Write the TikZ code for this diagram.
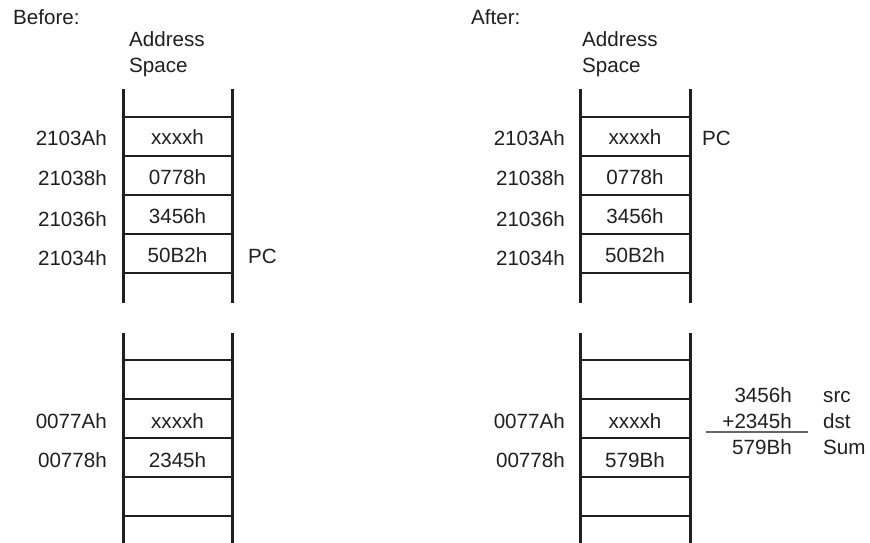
\documentclass[tikz,border=0pt]{standalone}
\usepackage{fontspec}
\setmainfont{Liberation Sans}

\tikzset{
    mem wall/.style={
      draw=black!88,
      line width=3pt
    },
    mem rule/.style={
      draw=black!88,
      line width=2.5pt
    },
    sum rule/.style={
      draw=black!60,
      line width=1.5pt
    },
    mem text/.style={
      font=\fontsize{20.6}{24}\selectfont,
      text=black!88,
      inner sep=0pt
    }
  }

\begin{document}
\begin{tikzpicture}[x=1pt,y=-1pt]
      \useasboundingbox (0,0) rectangle (870,543);

      % Titel
      \node[mem text, anchor=base west] (before) at (13,25) {Before:};
      \node[mem text, anchor=base west] (after) at (471,25) {After:};
      \node[mem text, anchor=base west] (addrL) at (129,47) {Address};
      \node[mem text, anchor=base west] (spaceL) at (129,73) {Space};
      \node[mem text, anchor=base west] (addrR) at (582,47) {Address};
      \node[mem text, anchor=base west] (spaceR) at (582,73) {Space};

      % Speicher links
      \draw[mem wall] (123,89) -- (123,303) (232,89) -- (232,303);
      \draw[mem wall] (123,333) -- (123,543) (232,333) -- (232,543);
      \foreach \y in {117,156,195,234,273,360,399,438,477,516}
        \draw[mem rule] (123,\y) -- (232,\y);

      % Speicher rechts
      \draw[mem wall] (580,89) -- (580,303) (690,89) -- (690,303);
      \draw[mem wall] (580,333) -- (580,543) (690,333) -- (690,543);
      \foreach \y in {117,156,195,234,273,360,399,438,477,516}
        \draw[mem rule] (580,\y) -- (690,\y);

      % Adressen links
      \node[mem text, anchor=base east] (aL1) at (107,145) {2103Ah};
      \node[mem text, anchor=base east] (aL2) at (107,185) {21038h};
      \node[mem text, anchor=base east] (aL3) at (107,226) {21036h};
      \node[mem text, anchor=base east] (aL4) at (107,265) {21034h};
      \node[mem text, anchor=base east] (aL5) at (107,428) {0077Ah};
      \node[mem text, anchor=base east] (aL6) at (107,467) {00778h};

      % Inhalt links
      \node[mem text, anchor=base] (cL1) at (177.5,144) {xxxxh};
      \node[mem text, anchor=base] (cL2) at (177.5,184) {0778h};
      \node[mem text, anchor=base] (cL3) at (177.5,223) {3456h};
      \node[mem text, anchor=base] (cL4) at (177.5,262) {50B2h};
      \node[mem text, anchor=base] (cL5) at (177.5,428) {xxxxh};
      \node[mem text, anchor=base] (cL6) at (177.5,467) {2345h};
      \node[mem text, anchor=base west] (pcL) at (248,263) {PC};

      % Adressen rechts
      \node[mem text, anchor=base east] (aR1) at (565,145) {2103Ah};
      \node[mem text, anchor=base east] (aR2) at (565,185) {21038h};
      \node[mem text, anchor=base east] (aR3) at (565,226) {21036h};
      \node[mem text, anchor=base east] (aR4) at (565,265) {21034h};
      \node[mem text, anchor=base east] (aR5) at (565,428) {0077Ah};
      \node[mem text, anchor=base east] (aR6) at (565,467) {00778h};

      % Inhalt rechts
      \node[mem text, anchor=base] (cR1) at (635,144) {xxxxh};
      \node[mem text, anchor=base] (cR2) at (635,184) {0778h};
      \node[mem text, anchor=base] (cR3) at (635,223) {3456h};
      \node[mem text, anchor=base] (cR4) at (635,262) {50B2h};
      \node[mem text, anchor=base] (cR5) at (635,428) {xxxxh};
      \node[mem text, anchor=base] (cR6) at (635,467) {579Bh};
      \node[mem text, anchor=base west] (pcR) at (702,145) {PC};

      % Addition
      \node[mem text, anchor=base east] (src) at (792,402) {3456h};
      \node[mem text, anchor=base east] (dst) at (792,428) {+2345h};
      \node[mem text, anchor=base east] (sum) at (792,454) {579Bh};
      \node[mem text, anchor=base west] (srcL) at (823,402) {src};
      \node[mem text, anchor=base west] (dstL) at (823,428) {dst};
      \node[mem text, anchor=base west] (sumL) at (823,454) {Sum};
      \coordinate (sumA) at (706,432);
      \coordinate (sumB) at (808,432);
      \draw[sum rule] (sumA) -- (sumB);
    \end{tikzpicture}
\end{document}
